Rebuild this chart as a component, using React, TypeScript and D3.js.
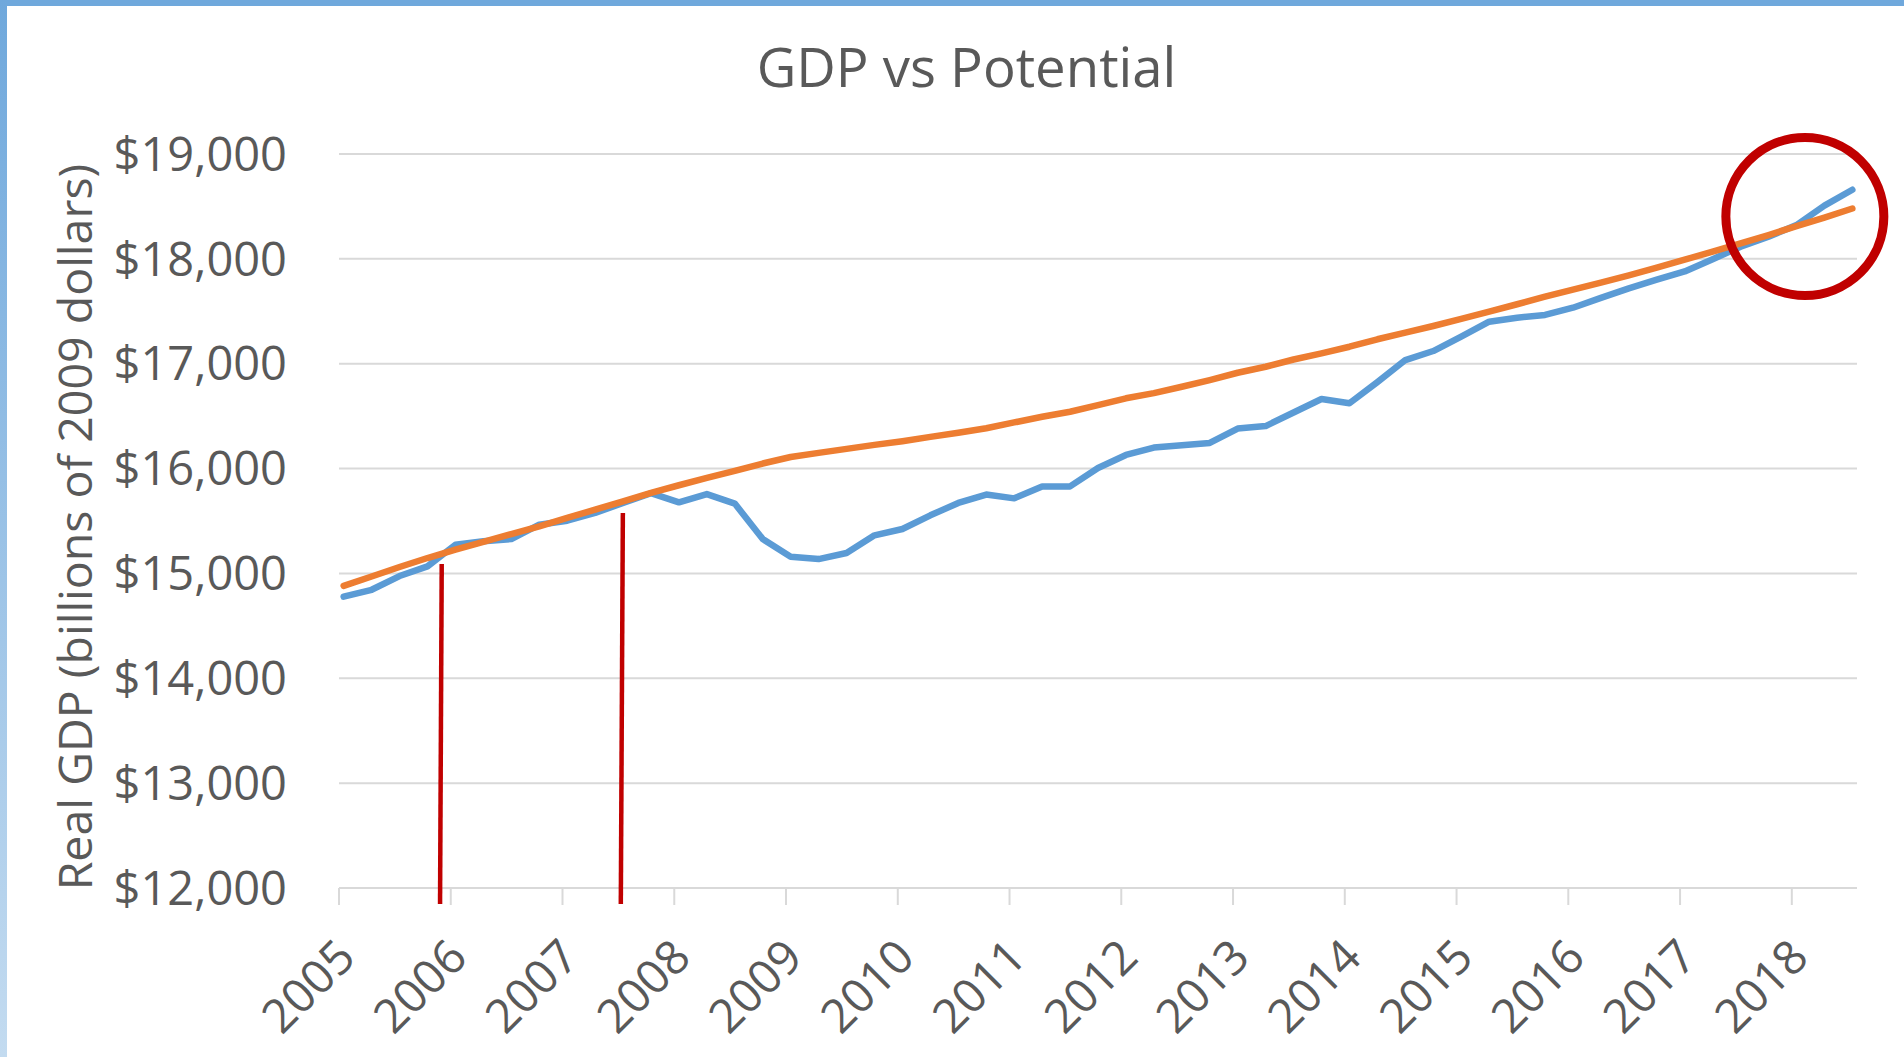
import React from 'react';
import * as d3 from 'd3';

// ---------- data ----------
const yearLabels = ['2005','2006','2007','2008','2009','2010','2011','2012','2013','2014','2015','2016','2017','2018'];
const yTicks = [12000, 13000, 14000, 15000, 16000, 17000, 18000, 19000];

// quarterly categories 2005Q1 .. 2018Q3
const quarters = d3.range(55).map(i => `${2005 + Math.floor(i / 4)}Q${(i % 4) + 1}`);

// Real GDP (billions of 2009 dollars)
const realGDP = [
  14778, 14844, 14975, 15067,
  15274, 15306, 15328, 15465,
  15503, 15577, 15672, 15765,
  15678, 15757, 15666, 15328,
  15160, 15137, 15195, 15363,
  15424, 15554, 15672, 15752,
  15716, 15830, 15830, 16006,
  16130, 16200, 16222, 16244,
  16382, 16405, 16535, 16663,
  16623, 16825, 17035, 17121,
  17258, 17401, 17439, 17465,
  17534, 17628, 17719, 17801,
  17880, 17997, 18116, 18211,
  18322, 18507, 18659,
];

// Potential GDP
const potentialGDP = [
  14882, 14971, 15061, 15147,
  15226, 15300, 15376, 15449,
  15529, 15608, 15688, 15768,
  15841, 15911, 15978, 16048,
  16110, 16150, 16188, 16226,
  16261, 16302, 16341, 16385,
  16440, 16494, 16542, 16605,
  16670, 16720, 16780, 16844,
  16914, 16971, 17040, 17099,
  17162, 17233, 17296, 17360,
  17427, 17497, 17567, 17640,
  17707, 17774, 17843, 17916,
  17992, 18069, 18148, 18227,
  18312, 18394, 18480,
];

// annotations (months since Jan 2005, GDP value)
const markerLines = [
  { monthTop: 11.03, monthBottom: 10.85, top: 15090, bottom: 11847 },
  { monthTop: 30.48, monthBottom: 30.26, top: 15576, bottom: 11847 },
];
const highlightCircle = { month: 157.4, value: 18404 };

const title = 'GDP vs Potential';
const yTitle = 'Real GDP (billions of 2009 dollars)';

// ---------- layout ----------
const W = 1904;
const H = 1057;
const plotLeft = 339;
const plotRight = 1857;
const plotTop = 154;
const plotBottom = 888;
const FONT = "'Open Sans', 'Noto Sans', sans-serif";
const TEXT = '#595959';
const GRID = '#D9D9D9';

export default function App() {
  const x = d3.scaleLinear().domain([0, 163]).range([plotLeft, plotRight]);
  const y = d3.scaleLinear().domain([12000, 19000]).range([plotBottom, plotTop]);
  const monthOf = (i: number) => i * 3 + 0.5;

  const line = d3
    .line<number>()
    .x((_, i) => x(monthOf(i)))
    .y(d => y(d));

  const labelSize = 47;
  const capH = labelSize * 0.714;

  return (
    <svg
      width={W}
      height={H}
      viewBox={`0 0 ${W} ${H}`}
      style={{ position: 'absolute', left: 0, top: 0, background: '#fff', fontFamily: FONT }}
    >
      <defs>
        <linearGradient id="leftBand" x1="0" y1="0" x2="0" y2="1">
          <stop offset="0" stopColor="#6FA8DC" />
          <stop offset="1" stopColor="#C3DBF0" />
        </linearGradient>
      </defs>
      <rect x={0} y={0} width={W} height={H} fill="#fff" />
      <rect x={0} y={0} width={W} height={6} fill="#6FA8DC" />
      <rect x={0} y={0} width={7} height={H} fill="url(#leftBand)" />

      {/* title */}
      <text x={966.5} y={86.7} textAnchor="middle" fontSize={54.5} fill={TEXT}>
        {title}
      </text>

      {/* gridlines */}
      {yTicks.map(t => (
        <line
          key={t}
          x1={plotLeft}
          x2={plotRight}
          y1={y(t)}
          y2={y(t)}
          stroke={GRID}
          strokeWidth={2}
        />
      ))}

      {/* x ticks */}
      {yearLabels.map((_, k) => (
        <line
          key={k}
          x1={x(k * 12)}
          x2={x(k * 12)}
          y1={plotBottom}
          y2={plotBottom + 17}
          stroke={GRID}
          strokeWidth={2}
        />
      ))}

      {/* y labels */}
      {yTicks.map(t => (
        <text
          key={t}
          x={287}
          y={y(t) + capH / 2}
          textAnchor="end"
          fontSize={labelSize}
          fill={TEXT}
        >
          {d3.format('$,')(t)}
        </text>
      ))}

      {/* x labels */}
      {yearLabels.map((lab, k) => (
        <text
          key={lab}
          transform={`translate(${x(k * 12) + 7},948) rotate(-45)`}
          y={capH / 2}
          textAnchor="end"
          fontSize={labelSize}
          fill={TEXT}
        >
          {lab}
        </text>
      ))}

      {/* y title */}
      <text
        transform={`translate(92,527) rotate(-90)`}
        textAnchor="middle"
        fontSize={46.5}
        fill={TEXT}
      >
        {yTitle}
      </text>

      {/* series */}
      <path
        d={line(realGDP) || ''}
        fill="none"
        stroke="#5B9BD5"
        strokeWidth={6.5}
        strokeLinejoin="round"
        strokeLinecap="round"
      />
      <path
        d={line(potentialGDP) || ''}
        fill="none"
        stroke="#ED7D31"
        strokeWidth={6.5}
        strokeLinejoin="round"
        strokeLinecap="round"
      />

      {/* annotations */}
      {markerLines.map((m, i) => (
        <line
          key={i}
          x1={x(m.monthTop)}
          y1={y(m.top)}
          x2={x(m.monthBottom)}
          y2={y(m.bottom)}
          stroke="#C00000"
          strokeWidth={4.5}
        />
      ))}
      <circle
        cx={x(highlightCircle.month)}
        cy={y(highlightCircle.value)}
        r={79}
        fill="none"
        stroke="#C00000"
        strokeWidth={9}
      />
      <desc>{quarters.join(',')}</desc>
    </svg>
  );
}
